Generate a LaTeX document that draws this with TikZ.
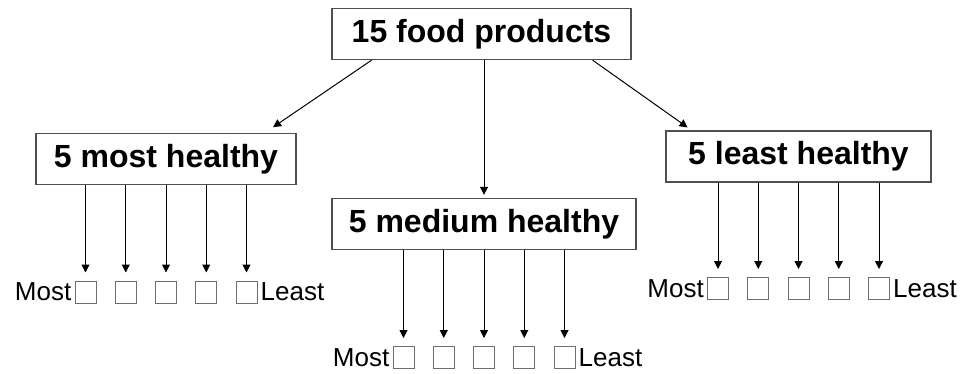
\documentclass[tikz,border=0pt]{standalone}
\usepackage{fontspec}
\setmainfont{Liberation Sans}
\usepackage{tikz}
\usetikzlibrary{arrows.meta,calc}
\definecolor{boxgrey}{RGB}{80,80,80}
\definecolor{sqgrey}{RGB}{110,110,110}
\tikzset{
  hbox/.style ={draw=boxgrey, line width=1.4pt, fill=white, minimum height=51pt,
                inner sep=0pt, font=\fontsize{32}{36}\selectfont\bfseries},
  sq/.style   ={draw=sqgrey, line width=1pt, minimum width=21pt, minimum height=22pt,
                inner sep=0pt},
  lbl/.style  ={font=\fontsize{26}{30}\selectfont, inner sep=3pt},
  ar/.style   ={-{Triangle[length=8pt,width=8pt]}, draw=black, line width=1pt},
}
\begin{document}
\begin{tikzpicture}[x=1pt,y=-1pt]
\useasboundingbox (0,0) rectangle (968,374);
\node[hbox,minimum width=299pt] (top) at (481.5,34) {15 food products};
\node[hbox,minimum width=260pt] (most) at (166,159) {5 most healthy};
\node[hbox,minimum width=304pt] (med) at (484,224) {5 medium healthy};
\node[hbox,minimum width=265pt] (least) at (798.5,156.5) {5 least healthy};

% split into three groups
\draw[ar,shorten >=10pt] ($(top.south west)!0.134!(top.south east)$)
   -- ($(most.north west)!0.878!(most.north east)$);
\draw[ar,shorten >=3pt] (top.south -| med.north) -- (med.north);
\draw[ar,shorten >=5pt] ($(top.south west)!0.87!(top.south east)$)
   -- ($(least.north west)!0.099!(least.north east)$);

% ranking squares under each group
\foreach \g/\cx/\cy in {most/166/292, med/484/357.5, least/798.5/288.5}{
  \foreach \k in {1,...,5}{
    \node[sq] (\g\k) at (\cx-120.75+40.25*\k,\cy) {};
    \draw[ar,shorten >=8pt] (\g\k |- \g.south) -- (\g\k.north);
  }
  \node[lbl,anchor=east] (\g most) at (\g1.west) {Most};
  \node[lbl,anchor=west] (\g least) at (\g5.east) {Least};
}
\end{tikzpicture}
\end{document}
